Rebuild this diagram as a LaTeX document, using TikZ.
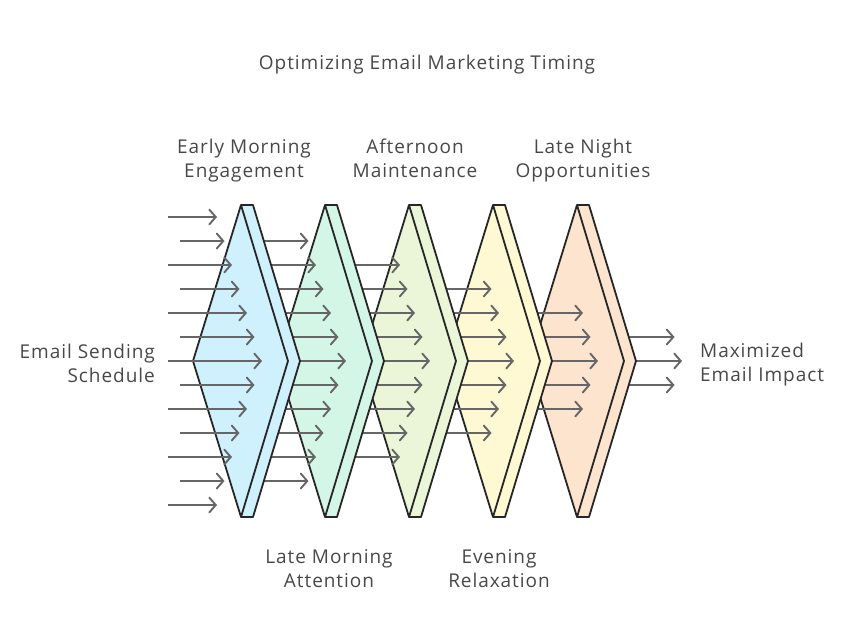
\documentclass[tikz,border=0pt]{standalone}
\usepackage{fontspec}
\setmainfont[LetterSpace=5]{Open Sans}
\usetikzlibrary{arrows.meta}
\definecolor{ch0}{HTML}{CFF0FD}
\definecolor{ch1}{HTML}{D4F6E6}
\definecolor{ch2}{HTML}{EAF6D7}
\definecolor{ch3}{HTML}{FEF9D3}
\definecolor{ch4}{HTML}{FDE4CF}
\definecolor{edge}{HTML}{262626}
\definecolor{arrowgray}{HTML}{666666}
\definecolor{txt}{HTML}{484848}
\tikzset{
  chev/.style={draw=edge, line width=1.8pt, line join=round},
  arr/.style={draw=arrowgray, line width=1.9pt, -{Straight Barb[length=6.5pt,width=15pt,line cap=round]}},
  lbl/.style={text=txt, font=\fontsize{19}{24}\selectfont, inner sep=0pt},
}
\begin{document}
\begin{tikzpicture}[x=1pt,y=-1pt]
\useasboundingbox (0,0) rectangle (854,638);
\fill[white] (0,0) rectangle (854,638);
\foreach \k in {6,5,4,3,2,1} {
  \pgfmathtruncatemacro\i{\k-1}
  \ifnum\k<6
    \pgfmathsetmacro\t{241+84*\i}
    \filldraw[chev, fill=ch\i] (\t,205) -- (\t+12,205) -- (\t+59,361) -- (\t+12,517) -- (\t,517) -- (\t-48,361) -- cycle;
    \draw[chev] (\t,205) -- (\t+47,361) -- (\t,517);
  \fi
  \pgfmathtruncatemacro\rlast{14-\k}
  \foreach \r in {\k,...,\rlast} {
    \pgfmathsetmacro\yy{217+24*(\r-1)}
    \pgfmathsetmacro\xs{(mod(\r,2)==1 ? 168 : 180) + 84*(\k-1)}
    \pgfmathsetmacro\xe{262-7.5*abs(\r-7)+84*(\k-1)}
    \draw[arr] (\xs,\yy) -- (\xe,\yy);
  }
}
\node[lbl] (title) at (427,65) {Optimizing Email Marketing Timing};
\node[lbl, align=center] (early) at (244,161) {Early Morning\\Engagement};
\node[lbl, align=center] (after) at (415,158.5) {Afternoon\\Maintenance};
\node[lbl, align=center] (night) at (583,161) {Late Night\\Opportunities};
\node[lbl, align=center] (late) at (329,569) {Late Morning\\Attention};
\node[lbl, align=center] (even) at (499,569) {Evening\\Relaxation};
\node[lbl, align=right, anchor=east] (src) at (155,363) {Email Sending\\Schedule};
\node[lbl, align=left, anchor=west] (dst) at (700,365) {Maximized\\Email Impact};
\end{tikzpicture}
\end{document}
